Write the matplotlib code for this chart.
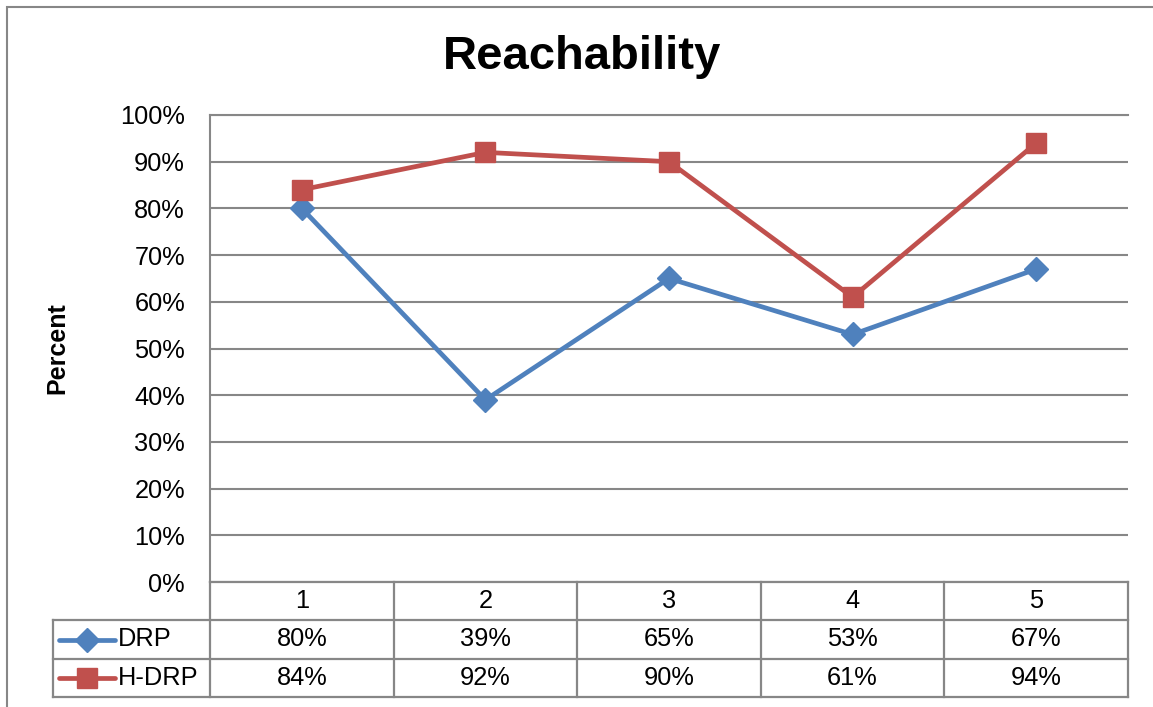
import matplotlib.pyplot as plt
from matplotlib.patches import Rectangle
from matplotlib.ticker import PercentFormatter

plt.rcParams['font.family'] = 'Liberation Sans'

# Data
categorias = ['1', '2', '3', '4', '5']
drp = [80, 39, 65, 53, 67]
h_drp = [84, 92, 90, 61, 94]
series = ['DRP', 'H-DRP']

AZUL = '#4F81BD'
ROJO = '#C0504D'
GRIS = '#878787'

W, H = 1153, 707
fig = plt.figure(figsize=(W / 100, H / 100), dpi=100)


def rect_px(x0, y0, x1, y1):
    # pixel box (top-left origin) -> figure fraction
    return [x0 / W, 1 - y1 / H, (x1 - x0) / W, (y1 - y0) / H]


# chart frame (right and bottom edges fall outside the canvas)
fig.patches.append(Rectangle((7 / W, -0.1), 1.2, 1 - 7 / H + 0.1, transform=fig.transFigure,
                             fill=False, edgecolor=GRIS, linewidth=1.5))

# --- plot area ---
x_izq, x_der, y_sup, y_inf = 210, 1128, 115, 582
ax = fig.add_axes(rect_px(x_izq, y_sup, x_der, y_inf))
xs = list(range(1, len(categorias) + 1))
ax.set_xlim(0.5, len(categorias) + 0.5)
ax.set_ylim(0, 100)
ax.set_yticks(range(0, 101, 10))
ax.yaxis.set_major_formatter(PercentFormatter(decimals=0))
ax.tick_params(axis='y', length=0, labelsize=18.3, pad=18)
ax.set_xticks([])
ax.grid(axis='y', color=GRIS, linewidth=1.5)
ax.set_axisbelow(True)
for lado in ['right', 'bottom']:
    ax.spines[lado].set_visible(False)
ax.spines['top'].set_color(GRIS)
ax.spines['top'].set_linewidth(1.5)
ax.spines['left'].set_color(GRIS)
ax.spines['left'].set_linewidth(1.5)

ax.plot(xs, drp, color=AZUL, linewidth=3.4, marker='D', markersize=12, zorder=3)
ax.plot(xs, h_drp, color=ROJO, linewidth=3.4, marker='s', markersize=14, zorder=3)

fig.text(582 / W, 1 - 57 / H, 'Reachability', fontsize=34, fontweight='bold',
         ha='center', va='center')
fig.text(57 / W, 1 - 348 / H, 'Percent', fontsize=18, fontweight='bold',
         rotation=90, ha='center', va='center')

# --- data table below the axis ---
col_w = (x_der - x_izq) / len(categorias)
t_izq, t_inf = 53, 697
tab = fig.add_axes(rect_px(t_izq, y_inf, x_der, t_inf))
x0 = 0.5 - (x_izq - t_izq) / col_w
tab.set_xlim(x0, len(categorias) + 0.5)
tab.set_ylim(3, 0)
tab.axis('off')

kw = dict(color=GRIS, linewidth=1.6, clip_on=False)
tab.plot([0.5, len(categorias) + 0.5], [0, 0], **kw)
for fila in [1, 2, 3]:
    tab.plot([x0, len(categorias) + 0.5], [fila, fila], **kw)
tab.plot([x0, x0], [1, 3], **kw)
for k in range(len(categorias) + 1):
    tab.plot([k + 0.5, k + 0.5], [0, 3], **kw)

for x, c in zip(xs, categorias):
    tab.text(x, 0.5, c, fontsize=18.3, ha='center', va='center')
for fila, (nombre, vals, color, mk, ms) in enumerate(
        [(series[0], drp, AZUL, 'D', 12), (series[1], h_drp, ROJO, 's', 14)], start=1):
    for x, v in zip(xs, vals):
        tab.text(x, fila + 0.5, f'{v}%', fontsize=18.3, ha='center', va='center')
    lx0, lx1 = x0 + 6 / col_w, x0 + 62 / col_w
    tab.plot([lx0, lx1], [fila + 0.5, fila + 0.5], color=color, linewidth=3.4,
             solid_capstyle='round', clip_on=False)
    tab.plot([(lx0 + lx1) / 2], [fila + 0.5], marker=mk, color=color, markersize=ms,
             clip_on=False)
    tab.text(x0 + 65 / col_w, fila + 0.5, nombre, fontsize=18.3, ha='left', va='center')

fig.savefig('out.png', dpi=100)
